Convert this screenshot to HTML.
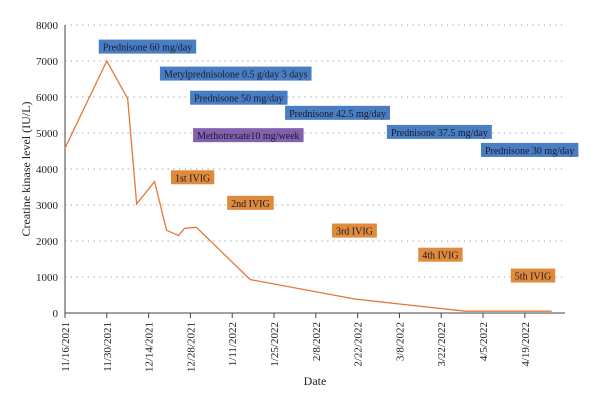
<!DOCTYPE html>
<html><head><meta charset="utf-8"><style>
body{margin:0;background:#fff}
svg{font-family:"Liberation Serif",serif}
</style></head><body>
<svg id="c" width="600" height="407">
<g id="grid"></g><g id="axes"></g><g id="series"></g><g id="notes"></g>
<text x="315" y="385" font-size="12" text-anchor="middle" fill="#222">Date</text>
<text transform="translate(30,169) rotate(-90)" font-size="12" text-anchor="middle" fill="#222">Creatine kinase level (IU/L)</text>
</svg>
<script>
const dayOffsets=[0,14,21,24,30,34,38,40,44,62,97,112,134,163];
const ckValues=[4580,7000,5950,3030,3650,2300,2150,2350,2380,930,390,250,50,50];
const tickLabels=["11/16/2021","11/30/2021","12/14/2021","12/28/2021","1/11/2022","1/25/2022","2/8/2022","2/22/2022","3/8/2022","3/22/2022","4/5/2022","4/19/2022"];
const yTicks=[0,1000,2000,3000,4000,5000,6000,7000,8000];
const noteLabels=["Prednisone 60 mg/day","Metylprednisolone 0.5 g/day 3 days","Prednisone 50 mg/day","Prednisone 42.5 mg/day","Prednisone 37.5 mg/day","Prednisone 30 mg/day","Methotrexate10 mg/week","1st IVIG","2nd IVIG","3rd IVIG","4th IVIG","5th IVIG"];
const noteKinds=["blue","blue","blue","blue","blue","blue","purple","orange","orange","orange","orange","orange"];
const noteDays=[11.3,31.8,41.9,73.7,107.8,139.3,42.9,35.5,54.3,89.4,118.3,149.3];
const noteVals=[7400,6650,5980,5560,5030,4530,4940,3770,3060,2290,1620,1040];
const ns="http://www.w3.org/2000/svg";
const X=d=>65+d*2.986, Y=v=>313-v*0.036;
const svg=document.getElementById('c');
function mk(t,p,a){const e=document.createElementNS(ns,t);for(const k in a)e.setAttribute(k,a[k]);p.appendChild(e);return e;}
const grid=document.getElementById('grid'),axes=document.getElementById('axes');
yTicks.forEach(v=>{
 if(v>0){const l=mk('line',grid,{x1:65,x2:565,y1:Y(v),y2:Y(v),stroke:'#999','stroke-dasharray':'1.2,4.5','stroke-width':1});
 
 }
 const t=mk('text',axes,{x:58,y:Y(v)+4,'font-size':11,'text-anchor':'end',fill:'#222'});t.textContent=v;
 
 
});
const xa=mk('line',axes,{x1:65,x2:565,y1:313,y2:313,stroke:'#444'});


const ya=mk('line',axes,{x1:65,x2:65,y1:25,y2:313,stroke:'#444'});


tickLabels.forEach((s,i)=>{const x=X(i*14);
 mk('line',axes,{x1:x,x2:x,y1:313,y2:318,stroke:'#444'});
 const t=mk('text',axes,{transform:`translate(${x+4},322) rotate(-90)`,'font-size':11,'text-anchor':'end',fill:'#222'});t.textContent=s;
 
 
});
const pl=mk('polyline',document.getElementById('series'),{points:dayOffsets.map((d,i)=>X(d)+','+Y(ckValues[i])).join(' '),fill:'none',stroke:'#e5773a','stroke-width':1.3});


const cols={blue:'#4a7ec4',purple:'#8460b0',orange:'#e08a3c'};
const notes=document.getElementById('notes');
noteLabels.forEach((s,i)=>{
 const g=mk('g',notes,{});
 
 
 const t=mk('text',g,{x:X(noteDays[i])+4,y:Y(noteVals[i])+4,'font-size':10,fill:'#1a1a2a'});t.textContent=s;
 const w=t.getComputedTextLength();
 const r=mk('rect',g,{x:X(noteDays[i]),y:Y(noteVals[i])-7,width:w+8,height:14,fill:cols[noteKinds[i]]});
 g.insertBefore(r,t);
});
</script>
</body></html>
